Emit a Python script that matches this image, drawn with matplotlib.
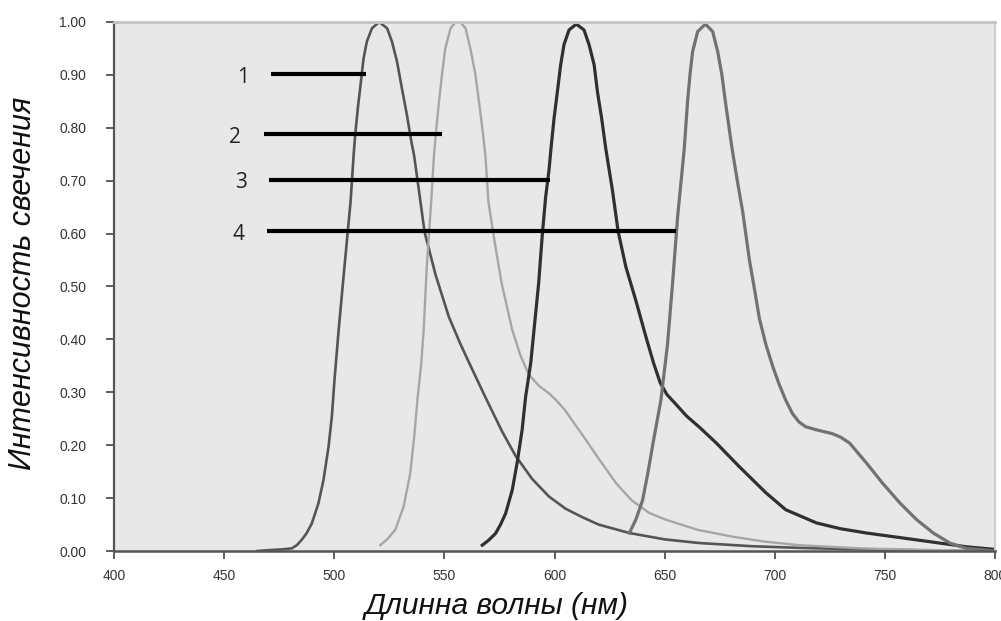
import matplotlib
matplotlib.use("Agg")
import matplotlib.pyplot as plt

# spectra (wavelength in nm, relative intensity)
wl1 = [465, 471.6, 476, 480.7, 483, 485.2, 487.5, 489.8, 492.8, 495.1, 497.4, 498.9, 500.1, 502,
       503.8, 505.6, 507.4, 508.8, 509.5, 510.7, 512.1, 513.3, 514.8, 517.1, 520.4, 524, 526.2,
       528.5, 530.7, 533, 535, 536.2, 538.5, 541, 546, 552, 557, 561.1, 568.7, 576.2, 582.3,
       589.9, 597.5, 605, 612.6, 620, 634, 650, 666, 690, 711, 740, 770, 800]
int1 = [0.0, 0.002, 0.003, 0.005, 0.011, 0.021, 0.034, 0.052, 0.09, 0.134, 0.197, 0.254, 0.323, 0.418,
        0.50, 0.58, 0.66, 0.749, 0.786, 0.837, 0.887, 0.931, 0.963, 0.988, 1.0, 0.988, 0.963,
        0.925, 0.875, 0.824, 0.774, 0.749, 0.68, 0.603, 0.522, 0.443, 0.394, 0.357, 0.29, 0.226, 0.18,
        0.136, 0.103, 0.08, 0.064, 0.05, 0.034, 0.022, 0.015, 0.009, 0.006, 0.003, 0.001, 0.0]

wl2 = [520.9, 524, 527.7, 531.5, 534.5, 536.3, 537.9, 539.5, 540.6, 542, 544, 545.3, 546.2, 547.4,
       548.9, 550.4, 552.8, 556.2, 559.6, 561.8, 564.1, 565.9, 567.4, 568.6, 570, 573, 576, 580.8,
       584.5, 588.4, 593, 597.5, 601, 605, 609, 612.6, 620, 628, 635, 643, 650.7, 665, 681, 695,
       711, 739, 770, 800]
int2 = [0.011, 0.022, 0.04, 0.084, 0.147, 0.216, 0.292, 0.355, 0.418, 0.537, 0.66, 0.749, 0.793, 0.843,
        0.9, 0.95, 0.988, 1.005, 0.988, 0.95, 0.9, 0.843, 0.793, 0.749, 0.66, 0.58, 0.506, 0.418,
        0.37, 0.333, 0.312, 0.298, 0.284, 0.265, 0.241, 0.22, 0.175, 0.128, 0.096, 0.072, 0.059, 0.04,
        0.027, 0.018, 0.011, 0.005, 0.002, 0.0]

wl3 = [567.2, 570, 573.2, 575.5, 577.8, 580.8, 583, 585.3, 586.9, 589.2, 590.7, 592.8, 594.5, 596,
       597.5, 598.5, 599.8, 601.3, 602.8, 604.3, 606.6, 609.9, 613.4, 615.7, 618, 619.5, 621.4,
       623.3, 626.3, 628.9, 632.4, 636.9, 641.5, 645, 648, 651, 655, 660, 665.8, 673.5, 684, 696,
       705, 719, 730, 741.7, 764.5, 787, 800]
int3 = [0.011, 0.02, 0.033, 0.05, 0.071, 0.115, 0.166, 0.229, 0.292, 0.355, 0.418, 0.506, 0.6, 0.67,
        0.72, 0.765, 0.818, 0.868, 0.919, 0.957, 0.985, 0.996, 0.985, 0.957, 0.919, 0.868, 0.818,
        0.76, 0.682, 0.604, 0.537, 0.474, 0.405, 0.355, 0.318, 0.296, 0.278, 0.255, 0.234, 0.204, 0.159,
        0.11, 0.078, 0.053, 0.042, 0.034, 0.021, 0.008, 0.003]

wl4 = [634, 637, 640, 642.5, 645, 648.3, 651.3, 653.6, 655.9, 657.5, 658.9, 660.4, 661.5, 662.7,
       665, 668.5, 671.8, 674.1, 676, 677.6, 679.1, 680.6, 683, 685.5, 688.5, 691, 693, 696, 699,
       702, 705, 708, 711, 714, 719, 726, 730, 734, 741.7, 749, 757, 764.5, 772, 779.5, 787, 800]
int4 = [0.034, 0.06, 0.096, 0.15, 0.21, 0.285, 0.39, 0.506, 0.632, 0.70, 0.76, 0.849, 0.9, 0.944,
        0.982, 0.996, 0.982, 0.944, 0.9, 0.849, 0.805, 0.761, 0.70, 0.64, 0.55, 0.49, 0.44, 0.39, 0.35,
        0.315, 0.285, 0.26, 0.244, 0.235, 0.229, 0.222, 0.215, 0.204, 0.166, 0.128, 0.09, 0.059,
        0.034, 0.015, 0.005, 0.0]

# numbered marker lines: label, start, end, level
marks = ["1", "2", "3", "4"]
mark_start = [471.4, 468.0, 470.5, 469.6]
mark_end = [514.2, 549.0, 598.0, 655.3]
mark_level = [0.902, 0.788, 0.702, 0.605]

xticks = [400, 450, 500, 550, 600, 650, 700, 750, 800]
yticks = [0.0, 0.1, 0.2, 0.3, 0.4, 0.5, 0.6, 0.7, 0.8, 0.9, 1.0]

fig = plt.figure(figsize=(10.01, 6.21), dpi=100)
ax = fig.add_axes([0.1139, 0.1127, 0.994 - 0.1139, 0.9646 - 0.1127])
ax.set_facecolor("#e8e8e8")

ax.plot(wl1, int1, color="#555555", lw=1.9, solid_joinstyle="round")
ax.plot(wl2, int2, color="#a6a6a6", lw=1.7, solid_joinstyle="round")
ax.plot(wl3, int3, color="#303030", lw=2.3, solid_joinstyle="round")
ax.plot(wl4, int4, color="#727272", lw=2.3, solid_joinstyle="round")

for lab, x0, x1, y in zip(marks, mark_start, mark_end, mark_level):
    ax.plot([x0, x1], [y, y], color="black", lw=3, solid_capstyle="butt")
    ax.text(x0 - 13, y - 0.006, lab, ha="center", va="center", fontsize=15,
            family="Open Sans", color="#222222")

ax.set_xlim(400, 800)
ax.set_ylim(0, 1.0)
ax.set_xticks(xticks)
ax.set_xticklabels([str(t) for t in xticks])
ax.set_yticks(yticks)
ax.set_yticklabels([f"{t:.2f}" for t in yticks])

for lbl in ax.get_xticklabels() + ax.get_yticklabels():
    lbl.set_family("Liberation Sans")
    lbl.set_fontsize(10)
    lbl.set_color("#333333")

ax.tick_params(axis="x", direction="out", length=6, width=1.2, pad=7, color="#444444")
ax.tick_params(axis="y", direction="out", length=6, width=1.2, pad=14, color="#444444")

ax.spines["left"].set_color("#555555")
ax.spines["left"].set_linewidth(1.6)
ax.spines["bottom"].set_color("#555555")
ax.spines["bottom"].set_linewidth(1.8)
ax.spines["top"].set_color("#c4c4c4")
ax.spines["top"].set_linewidth(2)
ax.spines["right"].set_color("#cccccc")
ax.spines["right"].set_linewidth(1.5)

fig.text(23 / 1001, 1 - 283.5 / 621, "Интенсивность свечения", rotation=90,
         ha="center", va="center", fontsize=22, style="italic", family="Liberation Sans",
         color="#111111")
fig.text(496.5 / 1001, 1 - 606 / 621, "Длинна волны (нм)", ha="center", va="center",
         fontsize=21.5, style="italic", family="Liberation Sans", color="#111111")

fig.savefig("out.png", dpi=100)
